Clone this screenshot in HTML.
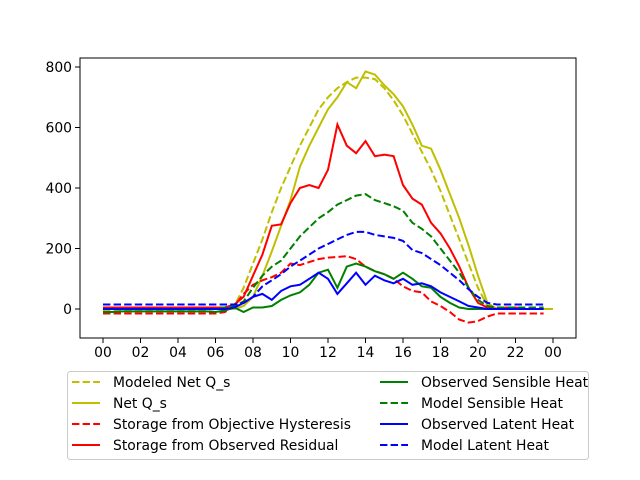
<!DOCTYPE html>
<html><head><meta charset="utf-8"><style>
body{margin:0;background:#fff;}
svg{display:block;font-family:"DejaVu Sans","Liberation Sans",sans-serif;}
</style></head><body>
<svg id="c" width="640" height="480"></svg>
<script>
const xTickLabels=["00","02","04","06","08","10","12","14","16","18","20","22","00"];
const yTickValues=[0,200,400,600,800];
const modeledNetQs=[-5,-5,-5,-5,-5,-5,-5,-5,-5,-5,-5,-5,-10,-10,10,70,150,230,320,400,470,540,600,660,700,730,750,765,765,760,730,690,640,580,520,460,390,310,230,150,70,10,0,0,0,0,0,0];
const netQs=[0,0,0,0,0,0,0,0,0,0,0,0,0,0,0,10,40,110,190,275,360,470,540,600,660,700,750,730,785,775,740,710,670,610,540,530,460,380,300,210,110,20,0,0,0,0,0,0,0];
const storageHyst=[-15,-15,-15,-15,-15,-15,-15,-15,-15,-15,-15,-15,-15,-10,10,50,80,95,105,120,150,145,155,165,170,172,175,165,140,125,115,100,75,60,55,25,10,-10,-35,-45,-40,-25,-15,-15,-15,-15,-15,-15];
const storageObs=[5,5,5,5,5,5,5,5,5,5,5,5,5,5,15,40,110,180,275,280,350,400,410,400,460,610,540,515,555,505,510,505,410,365,345,285,250,200,140,70,20,5,0,5,5,0,0,0];
const obsSensible=[-10,-10,-8,-8,-8,-8,-8,-8,-8,-8,-8,-8,-10,-5,5,-10,5,5,10,30,45,55,80,120,130,70,140,150,140,125,115,100,120,100,75,70,40,20,5,0,0,0,0,0,0,0,0,0];
const modelSensible=[0,0,0,0,0,0,0,0,0,0,0,0,0,5,10,25,70,110,140,160,200,240,270,300,320,345,360,375,380,360,350,340,325,285,265,240,200,160,120,70,30,10,5,5,5,5,5,5];
const obsLatent=[0,0,0,0,0,0,0,0,0,0,0,0,0,0,5,20,40,50,30,60,75,80,100,120,100,50,85,120,80,110,95,85,100,80,85,75,55,40,25,10,5,0,0,0,0,0,0,0];
const modelLatent=[15,15,15,15,15,15,15,15,15,15,15,15,15,15,15,20,40,75,95,115,140,160,180,200,215,230,245,255,255,245,240,235,225,195,185,165,145,120,95,65,40,20,15,15,15,15,15,15];

const L=80,R=576,T=58,B=338;
const xs=h=>103+h*18.75;
const ys=v=>309-v*0.3025;
const svg=document.getElementById('c');
const NS='http://www.w3.org/2000/svg';
function mk(t,a){const e=document.createElementNS(NS,t);for(const k in a)e.setAttribute(k,a[k]);svg.appendChild(e);return e;}
const DASH='7.4,3.2';

const series=[
 {d:modeledNetQs,c:'#bfbf00',dash:true,name:'modeled-net-qs-line'},
 {d:netQs,c:'#bfbf00',dash:false,name:'net-qs-line'},
 {d:storageHyst,c:'#ff0000',dash:true,name:'storage-hysteresis-line'},
 {d:storageObs,c:'#ff0000',dash:false,name:'storage-observed-line'},
 {d:obsSensible,c:'#008000',dash:false,name:'observed-sensible-line'},
 {d:modelSensible,c:'#008000',dash:true,name:'model-sensible-line'},
 {d:obsLatent,c:'#0000ff',dash:false,name:'observed-latent-line'},
 {d:modelLatent,c:'#0000ff',dash:true,name:'model-latent-line'}
];
series.forEach(s=>{
 const pts=s.d.map((v,i)=>xs(i*0.5).toFixed(1)+','+ys(v).toFixed(1)).join(' ');
 const p=mk('polyline',{points:pts,fill:'none',stroke:s.c,'stroke-width':2,'stroke-dasharray':s.dash?DASH:'none'});
 
 
});

const frame=mk('rect',{x:L,y:T,width:R-L,height:B-T,fill:'none',stroke:'#000','stroke-width':1});



xTickLabels.forEach((lab,i)=>{
 const x=xs(i*2);
 mk('line',{x1:x,y1:B,x2:x,y2:B+5,stroke:'#000','stroke-width':1});
 const t=mk('text',{x:x,y:B+19,'font-size':13.9,'text-anchor':'middle',fill:'#000'});
 t.textContent=lab;
 
 
});
yTickValues.forEach(v=>{
 const y=ys(v);
 mk('line',{x1:L-5,y1:y,x2:L,y2:y,stroke:'#000','stroke-width':1});
 const t=mk('text',{x:L-8,y:y+5,'font-size':13.9,'text-anchor':'end',fill:'#000'});
 t.textContent=v;
 
 
});

const lg=mk('rect',{x:67.5,y:371.5,width:521,height:88,rx:3,fill:'#fff',stroke:'#ccc','stroke-width':1});


const entries=[
 ['Modeled Net Q_s','#bfbf00',true,72,382],
 ['Net Q_s','#bfbf00',false,72,403],
 ['Storage from Objective Hysteresis','#ff0000',true,72,424],
 ['Storage from Observed Residual','#ff0000',false,72,445],
 ['Observed Sensible Heat','#008000',false,380,382],
 ['Model Sensible Heat','#008000',true,380,403],
 ['Observed Latent Heat','#0000ff',false,380,424],
 ['Model Latent Heat','#0000ff',true,380,445]
];
entries.forEach(e=>{
 mk('line',{x1:e[3],y1:e[4],x2:e[3]+28,y2:e[4],stroke:e[1],'stroke-width':2,'stroke-dasharray':e[2]?DASH:'none'});
 const t=mk('text',{x:e[3]+41,y:e[4]+5,'font-size':13.9,fill:'#000'});
 t.textContent=e[0];
 
 
});
</script>
</body></html>
